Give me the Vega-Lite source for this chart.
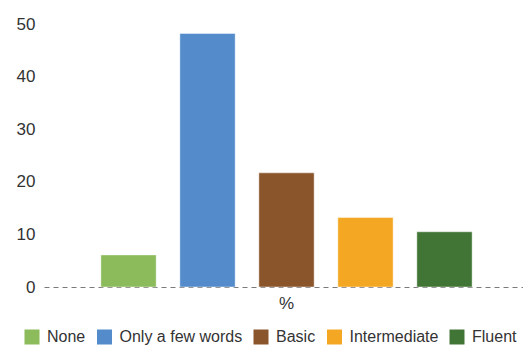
{
  "$schema": "https://vega.github.io/schema/vega-lite/v6.json",
  "autosize": {"type": "none"},
  "padding": {"left": 44, "top": 24, "right": 0, "bottom": 61},
  "width": 479,
  "height": 263,
  "config": {
    "view": {"stroke": null},
    "font": "Liberation Sans"
  },
  "data": {
    "values": [
      {"group": "%", "level": "None", "share": 6.1},
      {"group": "%", "level": "Only a few words", "share": 48.2},
      {"group": "%", "level": "Basic", "share": 21.7},
      {"group": "%", "level": "Intermediate", "share": 13.2},
      {"group": "%", "level": "Fluent", "share": 10.5}
    ]
  },
  "mark": {"type": "bar", "stroke": "white", "strokeOpacity": 0.45, "strokeWidth": 1},
  "encoding": {
    "x": {
      "field": "group",
      "type": "nominal",
      "title": null,
      "scale": {"range": [0, 485], "paddingInner": 0, "paddingOuter": 0.114},
      "axis": {
        "labelAngle": 0,
        "ticks": false,
        "domainDash": [5, 4],
        "domainColor": "#7a7a7a",
        "domainWidth": 1,
        "labelFontSize": 17,
        "labelColor": "#333333",
        "labelPadding": 8
      }
    },
    "xOffset": {
      "field": "level",
      "type": "nominal",
      "sort": ["None", "Only a few words", "Basic", "Intermediate", "Fluent"],
      "scale": {"paddingInner": 0.3, "paddingOuter": 0.15}
    },
    "y": {
      "field": "share",
      "type": "quantitative",
      "title": null,
      "scale": {"domain": [0, 50]},
      "axis": {
        "values": [0, 10, 20, 30, 40, 50],
        "grid": false,
        "domain": false,
        "ticks": false,
        "labelFontSize": 17,
        "labelColor": "#333333",
        "labelPadding": 9
      }
    },
    "color": {
      "field": "level",
      "type": "nominal",
      "sort": ["None", "Only a few words", "Basic", "Intermediate", "Fluent"],
      "scale": {
        "domain": ["None", "Only a few words", "Basic", "Intermediate", "Fluent"],
        "range": ["#8bbb5a", "#538bcb", "#8b552b", "#f3a722", "#417536"]
      },
      "legend": {
        "title": null,
        "orient": "none",
        "direction": "horizontal",
        "columns": 5,
        "legendX": -20,
        "legendY": 305,
        "symbolType": "square",
        "symbolSize": 225,
        "symbolStrokeWidth": 0,
        "symbolOpacity": 1,
        "labelFontSize": 16,
        "labelColor": "#333333",
        "labelOffset": 7,
        "columnPadding": 10.5
      }
    }
  }
}
